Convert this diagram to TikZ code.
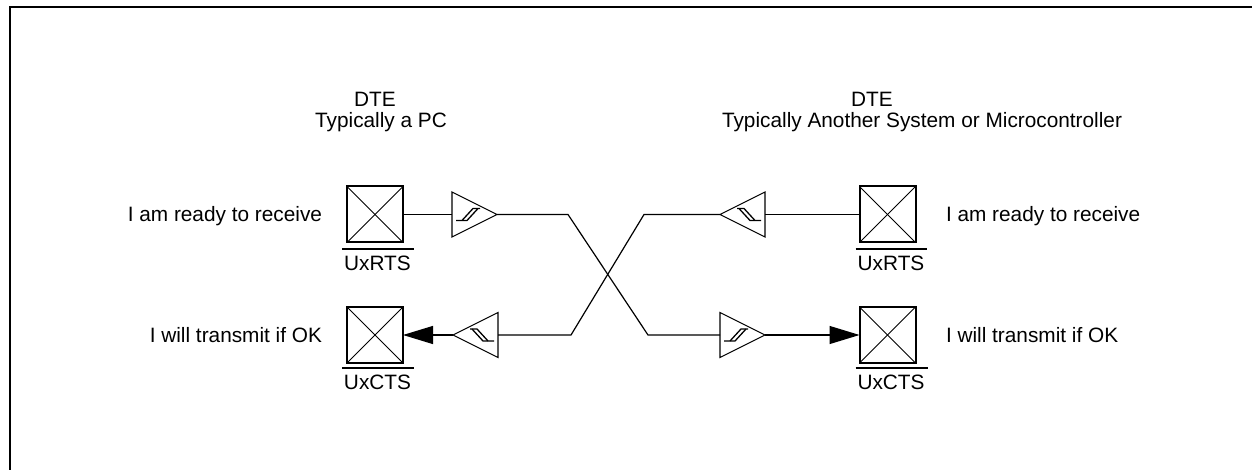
\documentclass[tikz,border=0pt]{standalone}
\usepackage{fontspec}
\setmainfont{Liberation Sans}
\usetikzlibrary{shapes.geometric,arrows.meta}
\tikzset{
  pinbox/.style={draw,line width=2pt,minimum size=56pt,inner sep=0pt,outer sep=0pt},
  buf/.style={draw,line width=1.1pt,isosceles triangle,isosceles triangle stretches,
    minimum width=45pt,minimum height=45pt,inner sep=0pt,outer sep=0pt},
  lbl/.style={inner sep=0pt,outer sep=0pt,font=\fontsize{20.8}{25}\selectfont},
  wire/.style={line width=1.2pt},
  bar/.style={line width=2pt},
  tip/.style={-{Triangle[length=30pt,width=18pt]}},
  hyst/.pic={
    \draw[line width=1.3pt] (-12,-6) -- (-1,-6) -- (10,6);
    \draw[line width=1.3pt] (-6,-6) -- (5,6) -- (12,6);
  }
}
\begin{document}
\begin{tikzpicture}[x=1pt,y=1pt]
\useasboundingbox (0,0) rectangle (1252,469);
\clip (0,0) rectangle (1252,469);

\draw[line width=2.4pt] (10,-20) -- (10,462) -- (1270,462);

\node[lbl,anchor=base] (ldte) at (375,362) {DTE};
\node[lbl,anchor=base] (lsys) at (381,341) {Typically a PC};
\node[lbl,anchor=base] (rdte) at (872,362) {DTE};
\node[lbl,anchor=base] (rsys) at (922,341) {Typically Another System or Microcontroller};

\node[pinbox] (lrts) at (375,254.5) {};
\node[pinbox] (lcts) at (375,134) {};
\node[pinbox] (rrts) at (887.5,254.5) {};
\node[pinbox] (rcts) at (887.5,134) {};
\foreach \b in {lrts,lcts,rrts,rcts}{
  \draw[line width=0.9pt] (\b.north west) -- (\b.south east);
  \draw[line width=0.9pt] (\b.south west) -- (\b.north east);
}

\node[lbl,anchor=base] (lrtsn) at (377.5,199) {UxRTS};
\node[lbl,anchor=base] (lctsn) at (377.5,80) {UxCTS};
\node[lbl,anchor=base] (rrtsn) at (891,199) {UxRTS};
\node[lbl,anchor=base] (rctsn) at (891,80) {UxCTS};
\foreach \n in {lrtsn,lctsn,rrtsn,rctsn}
  \draw[bar] ([xshift=-2pt,yshift=6pt]\n.north west) -- ([xshift=3pt,yshift=6pt]\n.north east);

\node[lbl,anchor=base east] (lready) at (322,247) {I am ready to receive};
\node[lbl,anchor=base east] (lxmit) at (322,127) {I will transmit if OK};
\node[lbl,anchor=base west] (rready) at (946,247) {I am ready to receive};
\node[lbl,anchor=base west] (rxmit) at (946,127) {I will transmit if OK};

\node[buf,anchor=west] (lout) at (452,254.5) {};
\node[buf,shape border rotate=180,anchor=west] (lin) at (453,134) {};
\node[buf,shape border rotate=180,anchor=west] (rout) at (720,254.5) {};
\node[buf,anchor=west] (rin) at (720,134) {};
\pic at ([xshift=16pt]lout.west) {hyst};
\pic[xscale=-1] at ([xshift=-16pt]lin.east) {hyst};
\pic[xscale=-1] at ([xshift=-16pt]rout.east) {hyst};
\pic at ([xshift=16pt]rin.west) {hyst};

\coordinate (ja) at (568,254.5);
\coordinate (jb) at (648,134);
\coordinate (jc) at (644,254.5);
\coordinate (jd) at (571,134);

\draw[wire] (lrts.east) -- (lout.west);
\draw[wire] (lout.east) -- (ja) -- (jb) -- (rin.west);
\draw[wire,tip] (rin.east) -- (rcts.west);
\draw[wire] (rrts.west) -- (rout.east);
\draw[wire] (rout.west) -- (jc) -- (jd) -- (lin.east);
\draw[wire,tip] (lin.west) -- (lcts.east);
\end{tikzpicture}
\end{document}
